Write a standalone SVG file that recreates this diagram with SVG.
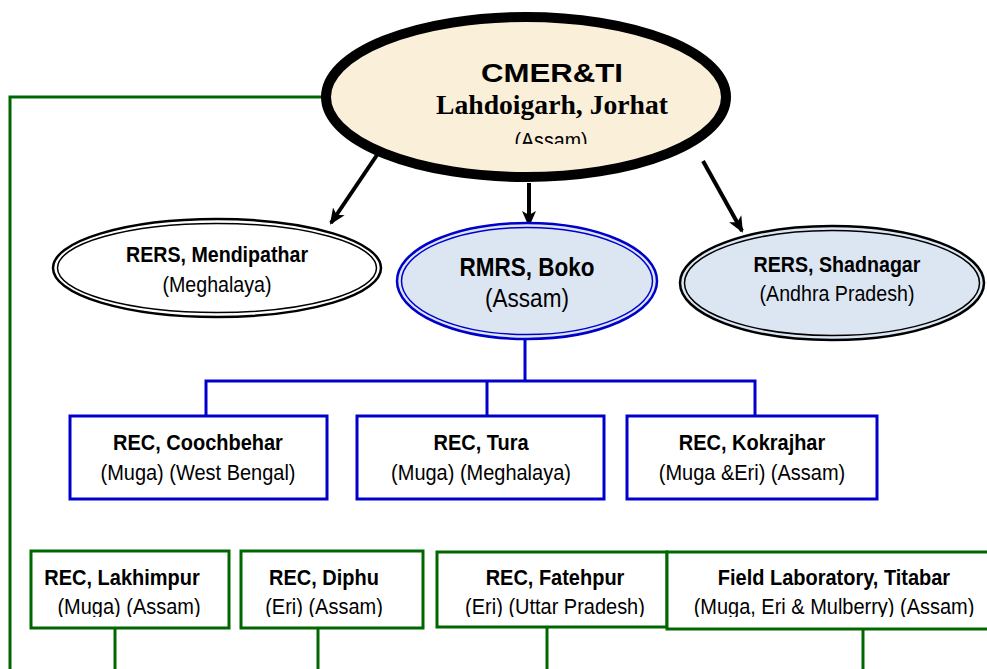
<svg xmlns="http://www.w3.org/2000/svg" width="987" height="669" viewBox="0 0 987 669">
<style>
text{font-family:"Liberation Sans",Arial,sans-serif;fill:#000;text-anchor:middle}
.b{font-weight:bold}
.s{font-size:22.7px}
.e{font-size:22.3px}
.k{font-size:25.6px}
.bb{fill:#fff;stroke:#0000CC;stroke-width:3}
.gb{fill:#fff;stroke:#006600;stroke-width:3}
.bl{fill:none;stroke:#0000CC;stroke-width:3}
.gl{fill:none;stroke:#006600;stroke-width:3}
.ar{stroke:#000;stroke-width:4;fill:none;marker-end:url(#ah)}
</style>
<defs>
<marker id="ah" markerUnits="userSpaceOnUse" markerWidth="16" markerHeight="16" viewBox="0 0 16 16" refX="14" refY="8" orient="auto">
<path d="M0,1 L16,8 L0,15 L4,8 Z" fill="#000"/>
</marker>
<clipPath id="ctop"><rect x="400" y="120" width="300" height="24"/></clipPath>
<clipPath id="cg"><rect x="0" y="590" width="987" height="27"/></clipPath>
</defs>
<rect width="987" height="669" fill="#fff"/>
<g id="connectors">
<polyline class="gl" points="327,97 10,97 10,669"/>
<line class="ar" x1="379" y1="152" x2="331" y2="223"/>
<line class="ar" x1="529" y1="183" x2="529" y2="225"/>
<line class="ar" x1="703" y1="161" x2="742" y2="231"/>
<polyline class="bl" points="525,340 525,381"/>
<polyline class="bl" points="206,416 206,381 755,381 755,416"/>
<line class="bl" x1="487" y1="381" x2="487" y2="416"/>
<line class="gl" x1="115" y1="628" x2="115" y2="669"/>
<line class="gl" x1="318" y1="628" x2="318" y2="669"/>
<line class="gl" x1="547" y1="627" x2="547" y2="669"/>
<line class="gl" x1="863" y1="629" x2="863" y2="669"/>
</g>
<g id="cmerti">
<ellipse cx="526" cy="97" rx="200" ry="80" fill="#FAEFD9" stroke="#000" stroke-width="10"/>
<text x="552" y="82" class="b" style="font-size:25.6px" textLength="142" lengthAdjust="spacingAndGlyphs">CMER&amp;TI</text>
<text x="552" y="114" style="font-family:'Liberation Serif','Times New Roman',serif;font-weight:bold;font-size:26.5px" textLength="232" lengthAdjust="spacingAndGlyphs">Lahdoigarh, Jorhat</text>
<g clip-path="url(#ctop)"><text transform="translate(551,148) scale(0.88,1)" class="e">(Assam)</text></g>
</g>
<g id="mendipathar">
<ellipse cx="217" cy="268" rx="164" ry="49" fill="#fff" stroke="#000" stroke-width="2.5"/>
<ellipse cx="217" cy="268" rx="159.5" ry="44.5" fill="none" stroke="#000" stroke-width="1.5"/>
<text transform="translate(217,262) scale(0.88,1)" class="b e">RERS, Mendipathar</text>
<text transform="translate(217,292) scale(0.88,1)" class="e">(Meghalaya)</text>
</g>
<g id="boko">
<ellipse cx="527" cy="281" rx="130" ry="58" fill="#DCE6F2" stroke="#0000CC" stroke-width="2.5"/>
<ellipse cx="527" cy="281" rx="125.5" ry="53.5" fill="none" stroke="#0000CC" stroke-width="1.5"/>
<text transform="translate(527,276) scale(0.88,1)" class="b k">RMRS, Boko</text>
<text transform="translate(527,307) scale(0.88,1)" class="k">(Assam)</text>
</g>
<g id="shadnagar">
<ellipse cx="832" cy="283" rx="152" ry="57" fill="#DCE6F2" stroke="#000" stroke-width="2.5"/>
<ellipse cx="832" cy="283" rx="147.5" ry="52.5" fill="none" stroke="#000" stroke-width="1.5"/>
<text transform="translate(837,272) scale(0.88,1)" class="b e">RERS, Shadnagar</text>
<text transform="translate(837,301) scale(0.88,1)" class="e">(Andhra Pradesh)</text>
</g>
<g id="coochbehar">
<rect class="bb" x="70" y="416" width="257" height="83"/>
<text transform="translate(198,450) scale(0.88,1)" class="b s">REC, Coochbehar</text>
<text transform="translate(198,480) scale(0.88,1)" class="s">(Muga) (West Bengal)</text>
</g>
<g id="tura">
<rect class="bb" x="357" y="416" width="247" height="83"/>
<text transform="translate(481,450) scale(0.88,1)" class="b s">REC, Tura</text>
<text transform="translate(481,480) scale(0.88,1)" class="s">(Muga) (Meghalaya)</text>
</g>
<g id="kokrajhar">
<rect class="bb" x="627" y="416" width="250" height="83"/>
<text transform="translate(752,450) scale(0.88,1)" class="b s">REC, Kokrajhar</text>
<text transform="translate(752,480) scale(0.88,1)" class="s">(Muga &amp;Eri) (Assam)</text>
</g>
<g id="lakhimpur">
<rect class="gb" x="31" y="551" width="198" height="77"/>
<text transform="translate(122,585) scale(0.88,1)" class="b s">REC, Lakhimpur</text>
<g clip-path="url(#cg)"><text transform="translate(129,614) scale(0.88,1)" class="s">(Muga) (Assam)</text></g>
</g>
<g id="diphu">
<rect class="gb" x="241" y="551" width="182" height="77"/>
<text transform="translate(324,585) scale(0.88,1)" class="b s">REC, Diphu</text>
<g clip-path="url(#cg)"><text transform="translate(324,614) scale(0.88,1)" class="s">(Eri) (Assam)</text></g>
</g>
<g id="fatehpur">
<rect class="gb" x="437" y="552" width="230" height="75"/>
<text transform="translate(555,585) scale(0.88,1)" class="b s">REC, Fatehpur</text>
<g clip-path="url(#cg)"><text transform="translate(555,614) scale(0.88,1)" class="s">(Eri) (Uttar Pradesh)</text></g>
</g>
<g id="titabar">
<rect class="gb" x="667" y="552" width="330" height="77"/>
<text transform="translate(834,585) scale(0.88,1)" class="b s">Field Laboratory, Titabar</text>
<g clip-path="url(#cg)"><text transform="translate(834,614) scale(0.88,1)" class="s">(Muga, Eri &amp; Mulberry) (Assam)</text></g>
</g>
</svg>
